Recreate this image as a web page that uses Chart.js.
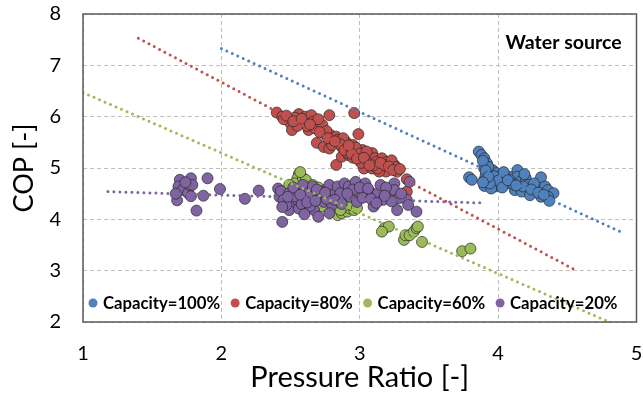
<!DOCTYPE html>
<html>
<head>
<meta charset="utf-8">
<script src="https://cdn.jsdelivr.net/npm/chart.js@4/dist/chart.umd.min.js"></script>
<style>
  html, body { margin: 0; padding: 0; background: #fff; }
  #wrap { width: 643px; height: 395px; }
</style>
</head>
<body>
<div id="wrap"><canvas id="cop-chart" width="643" height="395"></canvas></div>
<script>
// series labels and colours
const seriesLabels = ['Capacity=100%', 'Capacity=80%', 'Capacity=60%', 'Capacity=20%'];
const seriesColors = ['rgb(79,129,189)', 'rgb(192,80,77)', 'rgb(155,187,89)', 'rgb(128,100,162)'];

const blueX = [3.86,3.88,3.90,3.92,3.90,3.92,3.90,3.90,3.79,3.81,3.96,3.99,3.95,3.98,3.95,4.01,4.05,4.06,4.02,4.10,4.14,4.14,4.16,4.12,4.17,4.20,4.22,4.18,4.23,4.28,4.31,4.34,4.36,4.40,4.36,4.31,4.37,3.93,3.97,4.00,4.08,3.94,4.04,4.26,4.19,3.91,4.11,3.89,3.91,3.93,3.89,4.03,4.07,4.13,4.24,4.29,4.33];
const blueY = [5.32,5.25,5.19,5.09,4.99,4.90,4.77,4.65,4.82,4.77,4.96,4.90,4.77,4.64,4.60,4.83,4.86,4.70,4.73,4.83,4.96,4.83,4.73,4.57,4.54,4.80,4.67,4.64,4.47,4.60,4.82,4.64,4.57,4.51,4.44,4.44,4.36,5.02,4.84,4.75,4.78,4.70,4.92,4.70,4.88,4.85,4.68,5.14,4.95,4.83,4.72,4.62,4.76,4.66,4.58,4.52,4.48];

const redX = [2.40,2.44,2.48,2.50,2.51,2.56,2.57,2.61,2.65,2.66,2.63,2.68,2.73,2.78,2.74,2.79,2.83,2.81,2.69,2.74,2.78,2.85,2.87,2.90,2.93,2.96,2.99,2.83,2.87,2.92,2.97,2.99,3.02,3.04,3.07,3.09,3.11,3.03,3.09,3.14,3.16,3.20,3.22,3.25,3.27,3.19,3.14,3.34,3.34,2.45,2.53,2.59,2.70,2.76,2.84,2.88,2.95,2.91,2.97,3.00,3.05,3.06,3.12,3.13,3.18,3.23,3.26,2.95,3.01,2.80,2.62,2.55,3.10,2.47,2.52,2.58,2.64,2.71,2.77,2.86,2.89,2.94,2.98,3.03,3.07,3.15,3.21,3.24,3.29,2.82,2.92];
const redY = [6.08,6.00,5.94,5.87,5.74,6.05,5.94,6.00,6.03,5.90,5.74,5.77,5.84,6.03,5.68,5.64,5.61,5.51,5.49,5.41,5.38,5.48,5.41,5.51,5.38,6.07,5.66,5.06,5.22,5.25,5.32,5.22,5.35,5.25,5.16,5.29,5.19,4.99,4.99,5.06,5.19,5.12,4.99,5.06,4.93,4.93,4.93,4.78,4.54,5.95,5.98,5.88,5.95,5.72,5.55,5.58,5.45,5.30,5.40,5.28,5.32,5.10,5.12,4.99,5.05,5.15,5.02,5.20,5.10,5.45,5.82,5.82,5.05,6.02,5.91,5.96,5.85,5.70,5.58,5.46,5.35,5.28,5.18,5.20,5.05,5.10,5.03,4.96,4.98,5.52,5.44];

const greenX = [2.56,2.55,2.53,2.59,2.61,2.49,2.65,2.61,2.66,2.70,2.75,2.83,2.84,2.84,2.87,2.91,2.93,2.96,2.90,2.73,3.18,3.21,3.16,3.32,3.33,3.36,3.39,3.41,3.42,3.45,3.74,3.80,2.58,2.52,2.68,2.79,2.88,2.94,2.86,2.98,2.63,2.57];
const greenY = [4.88,4.80,4.70,4.80,4.70,4.67,4.64,4.77,4.67,4.62,4.57,4.34,4.21,4.08,4.12,4.15,4.21,4.18,4.34,4.25,3.83,3.86,3.76,3.60,3.69,3.69,3.76,3.83,3.86,3.56,3.38,3.43,4.58,4.55,4.50,4.40,4.25,4.28,4.18,4.22,4.52,4.92];

const purpleX = [1.70,1.69,1.68,1.72,1.76,1.77,1.78,1.79,1.78,1.82,1.87,1.90,1.99,2.17,2.27,1.74,1.67,2.41,2.42,2.44,2.43,2.45,2.49,2.51,2.49,2.55,2.55,2.59,2.56,2.61,2.63,2.66,2.67,2.71,2.73,2.74,2.78,2.79,2.80,2.78,2.84,2.86,2.89,2.92,2.97,2.93,2.98,2.99,3.04,3.07,3.10,3.13,3.15,3.17,3.21,3.25,3.25,3.27,3.28,3.34,3.35,3.41,3.36,3.19,2.47,2.53,2.58,2.64,2.69,2.76,2.82,2.87,2.95,3.02,3.08,3.12,3.23,3.30,2.60,2.70,2.52,2.44,2.48,2.57,2.62,2.68,2.75,2.91,3.00,3.06,3.18];
const purpleY = [4.77,4.64,4.37,4.57,4.51,4.67,4.80,4.67,4.45,4.17,4.46,4.80,4.59,4.40,4.56,4.72,4.50,4.60,4.44,3.95,4.55,4.38,4.51,4.34,4.18,4.54,4.38,4.67,4.21,4.38,4.51,4.64,4.18,4.44,4.54,4.34,4.67,4.47,4.28,4.12,4.64,4.51,4.70,4.64,4.73,4.44,4.34,4.54,4.70,4.54,4.25,4.51,4.67,4.38,4.51,4.70,4.57,4.18,4.41,4.38,4.28,4.15,4.73,4.62,4.28,4.45,4.30,4.25,4.58,4.40,4.38,4.30,4.58,4.42,4.40,4.32,4.35,4.50,4.10,4.05,4.62,4.24,4.44,4.48,4.33,4.36,4.52,4.50,4.62,4.60,4.46];

// linear trend lines, end points
const trendX = [[2.00, 4.90], [1.40, 4.56], [1.00, 4.82], [1.18, 3.88]];
const trendY = [[7.33, 3.74], [7.53, 3.01], [6.47, 1.98], [4.54, 4.32]];

const xTicks = [1, 2, 3, 4, 5];
const yTicks = [2, 3, 4, 5, 6, 7, 8];

const zip = (xs, ys) => xs.map((x, i) => ({x: x, y: ys[i]}));
const pointSets = [zip(blueX, blueY), zip(redX, redY), zip(greenX, greenY), zip(purpleX, purpleY)];

const FONT = 'Lato, "Open Sans", sans-serif';

const datasets = [];
pointSets.forEach((pts, i) => {
    datasets.push({
        type: 'scatter',
        label: seriesLabels[i],
        data: pts,
        backgroundColor: seriesColors[i],
        borderColor: 'rgba(40,40,40,0.7)',
        borderWidth: 1,
        pointRadius: 5.5,
        order: 4 - i
    });
});
trendX.forEach((xs, i) => {
    datasets.push({
        type: 'line',
        label: 'trend ' + seriesLabels[i],
        data: zip(xs, trendY[i]),
        borderColor: seriesColors[i],
        borderWidth: 3,
        borderDash: [0, 6],
        borderCapStyle: 'round',
        pointRadius: 0,
        fill: false,
        isTrend: true,
        order: 0
    });
});

// legend inside the plot + "Water source" note + frame
const extrasPlugin = {
    id: 'extras',
    afterDraw(chart) {
        const {ctx, chartArea} = chart;
        ctx.save();
        ctx.strokeStyle = '#595959';
        ctx.lineWidth = 1.5;
        ctx.strokeRect(chartArea.left, chartArea.top, chartArea.right - chartArea.left, chartArea.bottom - chartArea.top);

        ctx.font = 'bold 19.5px ' + FONT;
        ctx.fillStyle = '#000';
        ctx.textBaseline = 'middle';
        ctx.textAlign = 'left';
        ctx.fillText('Water source', chartArea.right - 131, chartArea.top + 29);

        ctx.font = 'bold 16.7px ' + FONT;
        let x = chartArea.left + 10;
        const y = chartArea.bottom - 19;
        chart.data.datasets.filter(d => !d.isTrend).forEach(d => {
            ctx.beginPath();
            ctx.arc(x, y, 4.5, 0, Math.PI * 2);
            ctx.fillStyle = d.backgroundColor;
            ctx.fill();
            ctx.fillStyle = '#000';
            ctx.fillText(d.label, x + 10, y + 1);
            x += 10 + ctx.measureText(d.label).width + 15;
        });
        ctx.restore();
    }
};

new Chart(document.getElementById('cop-chart'), {
    data: {datasets: datasets},
    options: {
        responsive: false,
        animation: false,
        layout: {padding: {left: 0, right: 4, top: 14, bottom: 0}},
        plugins: {legend: {display: false}, tooltip: {enabled: false}},
        scales: {
            x: {
                type: 'linear',
                min: 1, max: 5,
                afterBuildTicks: s => { s.ticks = xTicks.map(v => ({value: v})); },
                afterFit: s => {
                    s.height = 73;
                    s.paddingLeft = 0; s.paddingRight = 0;
                },
                grid: {color: '#bfbfbf', drawTicks: false},
                border: {display: false, dash: [4, 3]},
                ticks: {padding: 20, color: '#000', font: {family: FONT, size: 20}},
                title: {display: true, text: 'Pressure Ratio [-]', color: '#000',
                        font: {family: FONT, size: 29}, padding: {bottom: 0}}
            },
            y: {
                type: 'linear',
                min: 2, max: 8,
                afterBuildTicks: s => { s.ticks = yTicks.map(v => ({value: v})); },
                afterFit: s => {
                    s.width = 83;
                    s.paddingTop = 0; s.paddingBottom = 0;
                },
                grid: {color: '#bfbfbf', drawTicks: false},
                border: {display: false, dash: [4, 3]},
                ticks: {padding: 22, color: '#000', font: {family: FONT, size: 20}},
                title: {display: true, text: 'COP [-]', color: '#000',
                        font: {family: FONT, size: 27}, padding: {top: 8}}
            }
        }
    },
    plugins: [extrasPlugin]
});
</script>
</body>
</html>
